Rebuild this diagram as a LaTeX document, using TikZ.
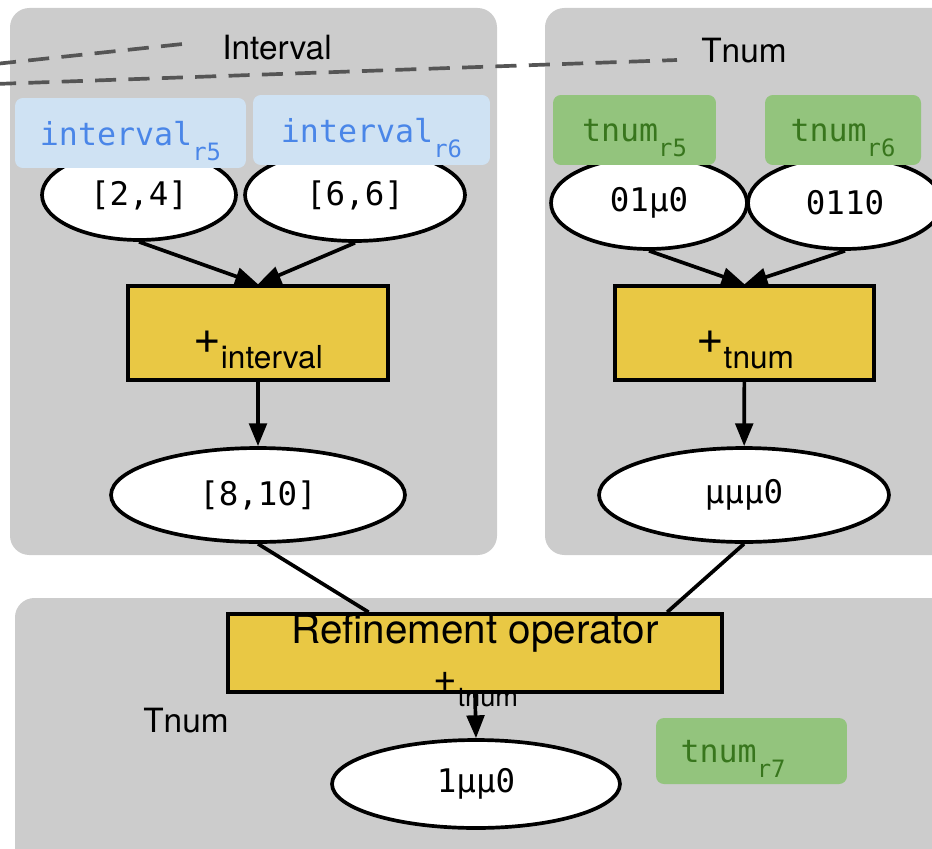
\documentclass[tikz,border=0pt]{standalone}
\usepackage{fontspec}
\setmainfont{TeX Gyre Heros}
\setmonofont{DejaVu Sans Mono}
\usetikzlibrary{arrows.meta,shapes.geometric}

\definecolor{clustergray}{HTML}{CCCCCC}
\definecolor{opyellow}{HTML}{E9C844}
\definecolor{ivfill}{HTML}{CFE2F3}
\definecolor{ivtext}{HTML}{4A86E8}
\definecolor{tnfill}{HTML}{93C47D}
\definecolor{tntext}{HTML}{38761D}
\definecolor{dashgray}{HTML}{555555}

\newcommand{\monosub}[1]{\raisebox{-9pt}{\fontsize{13.6}{14}\selectfont #1}}
\newcommand{\opsign}[3]{{\fontsize{#1}{#1}\selectfont +}\raisebox{-9pt}{\fontsize{#2}{#2}\selectfont #3}}

\tikzset{
  cluster/.style={fill=clustergray, rounded corners=11pt},
  valnode/.style={ellipse, draw, line width=2.1pt, fill=white, inner sep=0pt,
    font=\ttfamily\fontsize{18.5}{20}\selectfont},
  opbox/.style={rectangle, draw, line width=2.1pt, fill=opyellow, inner sep=0pt},
  optext/.style={anchor=base, inner sep=0pt},
  ivlabel/.style={rectangle, rounded corners=4.5pt, fill=ivfill, text=ivtext,
    inner sep=0pt, text depth=0pt, font=\ttfamily\fontsize{18}{20}\selectfont},
  tnlabel/.style={ivlabel, fill=tnfill, text=tntext},
  title/.style={anchor=base, inner sep=0pt, font=\fontsize{19}{21}\selectfont},
  flow/.style={line width=2.1pt, -{Triangle[length=13pt,width=10pt]}},
  link/.style={line width=2.1pt},
  crossing/.style={dashgray, line width=2.1pt, dash pattern=on 12pt off 7pt},
}

\begin{document}
\begin{tikzpicture}[x=0.02cm, y=-0.02cm]
  \useasboundingbox (0,0) rectangle (932,848);
  \clip (0,0) rectangle (932,848);

  % clusters
  \fill[cluster] (10,8) rectangle (497,555);
  \fill[cluster] (545,8) rectangle (970,555);
  \fill[cluster] (15,598) rectangle (970,890);

  \node[title] (ivtitle) at (277,60) {Interval};
  \node[title] (tntitle) at (744,63) {Tnum};
  \node[title] (restitle) at (186,732) {Tnum};

  % edges passing through
  \coordinate (crossa) at (-5,64);
  \coordinate (crossaend) at (192,43);
  \coordinate (crossb) at (-5,84);
  \coordinate (crossbend) at (677,60);
  \draw[crossing] (crossa) -- (crossaend);
  \draw[crossing] (crossb) -- (crossbend);

  % values
  \node[valnode, minimum width=3.88cm, minimum height=1.8cm] (iv24) at (139,195) {[2,4]};
  \node[valnode, minimum width=4.4cm, minimum height=1.84cm] (iv66) at (355,195) {[6,6]};
  \node[valnode, minimum width=5.88cm, minimum height=1.88cm] (iv810) at (258,495) {[8,10]};
  \node[valnode, minimum width=3.92cm, minimum height=1.84cm] (tn01) at (649,203) {01µ0};
  \node[valnode, minimum width=3.88cm, minimum height=1.84cm] (tn0110) at (845,203) {0110};
  \node[valnode, minimum width=5.8cm, minimum height=1.88cm] (tnmmm) at (744,495) {µµµ0};
  \node[valnode, minimum width=5.76cm, minimum height=1.76cm] (tnres) at (476,784) {1µµ0};

  % operators
  \node[opbox, minimum width=5.2cm, minimum height=1.88cm] (plusiv) at (258,333) {};
  \node[opbox, minimum width=5.18cm, minimum height=1.88cm] (plustn) at (744.5,333) {};
  \node[opbox, minimum width=9.88cm, minimum height=1.56cm] (refine) at (475,653) {};

  \draw[flow] (iv24.south) -- (plusiv.north);
  \draw[flow] (iv66.south) -- (plusiv.north);
  \draw[flow] (plusiv) -- (iv810);
  \draw[flow] (tn01.south) -- (plustn.north);
  \draw[flow] (tn0110.south) -- (plustn.north);
  \draw[flow] (plustn) -- (tnmmm);
  \draw[link] (iv810.south) -- (refine.159);
  \draw[link] (tnmmm.south) -- (refine.12);
  \draw[flow] (refine.south) -- (tnres.north);

  \node[optext] (plusivtxt) at (258,353) {\opsign{27}{18}{interval}};
  \node[optext] (plustntxt) at (745,353) {\opsign{27}{18}{tnum}};
  \node[optext] (refinetxt) at (475,643) {\fontsize{23}{24}\selectfont Refinement operator};
  \node[optext] (refineop) at (476,691) {\opsign{23}{15.5}{tnum}};

  % labels
  \node[ivlabel, minimum width=4.62cm, minimum height=1.4cm] (ivr5) at (130.5,133) {interval\monosub{r5}};
  \node[ivlabel, minimum width=4.74cm, minimum height=1.4cm] (ivr6) at (371.5,130) {interval\monosub{r6}};
  \node[tnlabel, minimum width=3.26cm, minimum height=1.4cm] (tnr5) at (634.5,130) {tnum\monosub{r5}};
  \node[tnlabel, minimum width=3.12cm, minimum height=1.4cm] (tnr6) at (843,130) {tnum\monosub{r6}};
  \node[tnlabel, minimum width=3.82cm, minimum height=1.32cm] (tnr7) at (751.5,751) {tnum\monosub{r7}\hspace*{21pt}};
\end{tikzpicture}
\end{document}
